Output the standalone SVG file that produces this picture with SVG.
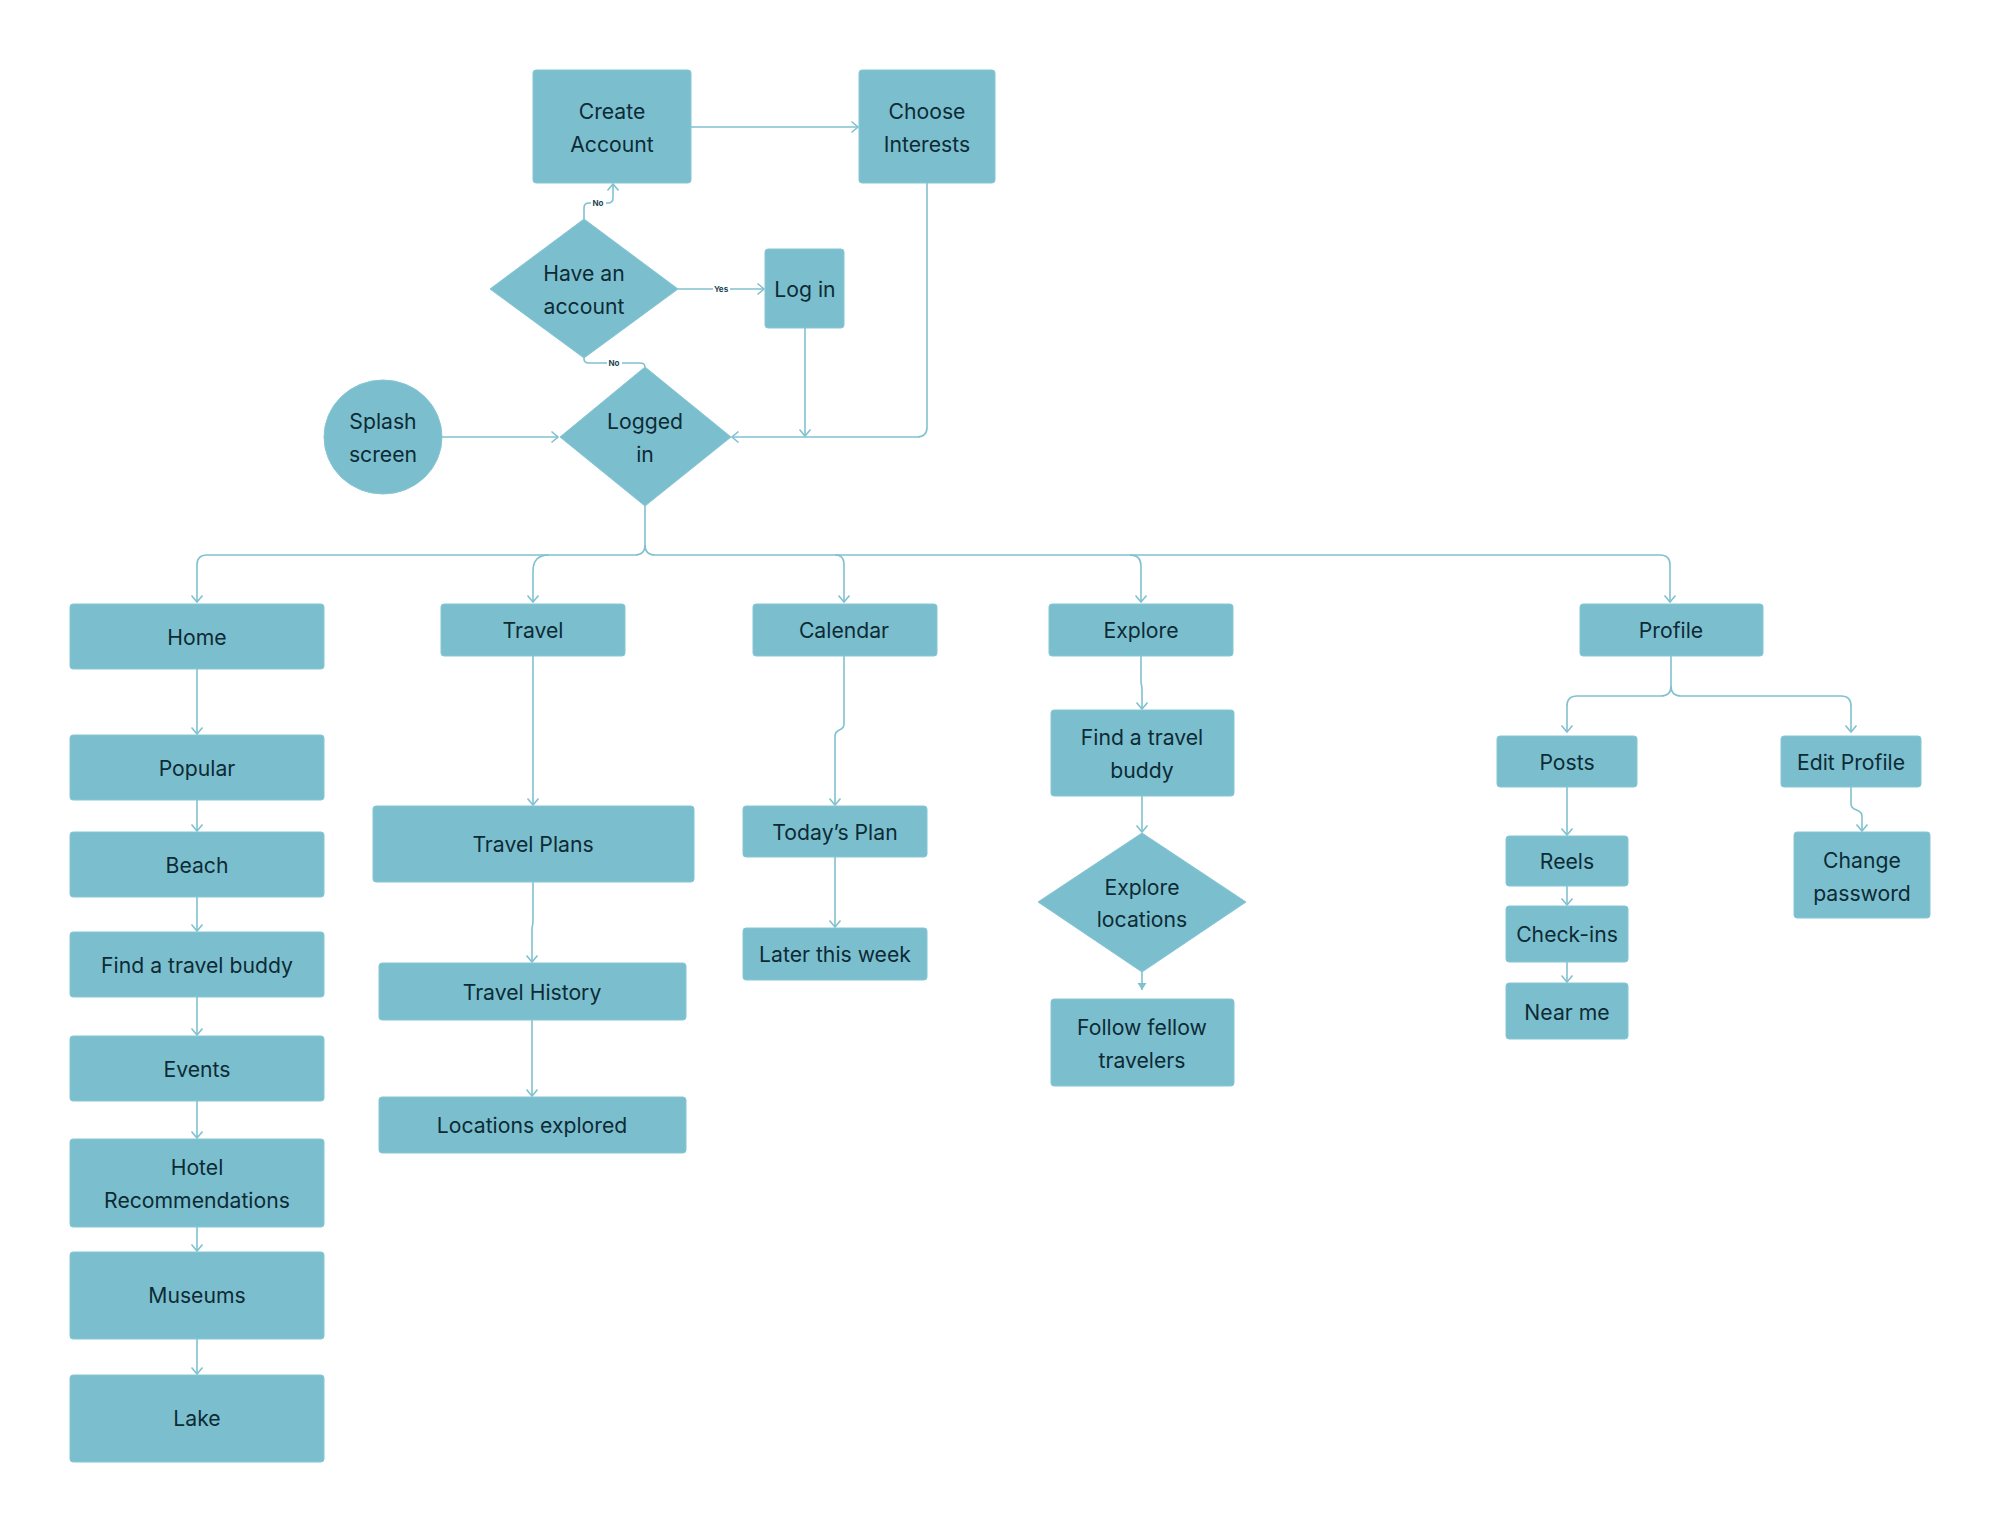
<svg xmlns="http://www.w3.org/2000/svg" width="2000" height="1532" viewBox="0 0 2000 1532">
<style>
.n{fill:#7bbfce;stroke:#86c6d4;stroke-width:1}
.t{font-family:Inter,"Noto Sans","Liberation Sans",sans-serif;font-size:21.2px;fill:#0d2b35;text-anchor:middle}
.c{fill:none;stroke:#80c1cf;stroke-width:1.6}
.a{marker-end:url(#ar)}
.lb{font-family:Inter,"Liberation Sans",sans-serif;font-size:8px;font-weight:700;fill:#1b4756;text-anchor:middle}
</style>
<defs>
<marker id="ar" markerUnits="userSpaceOnUse" markerWidth="14" markerHeight="14" refX="8" refY="7" orient="auto">
<path d="M1.5,1.5 L8,7 L1.5,12.5" fill="none" stroke="#80c1cf" stroke-width="1.6"/>
</marker>
<marker id="af" markerUnits="userSpaceOnUse" markerWidth="12" markerHeight="12" refX="8" refY="6" orient="auto">
<path d="M1,1.5 L8,6 L1,10.5 Z" fill="#80c1cf"/>
</marker>
</defs>
<rect width="2000" height="1532" fill="#ffffff"/>
<g id="connectors">
<path class="c a" d="M691,127 H858"/>
<path class="c a" d="M678,289 H764"/>
<path class="c a" d="M584,219 V208 Q584,203 589,203 H608 Q613,203 613,198 V184"/>
<path class="c" d="M584,358 V359 Q584,363 589,363 H640 Q645,363 645,367"/>
<path class="c a" d="M442,437 H558"/>
<path class="c a" d="M805,328 V436"/>
<path class="c a" d="M927,183 V427 Q927,437 917,437 H732"/>
<path class="c a" d="M645,506 V545 Q645,555 635,555 H207 Q197,555 197,565 V602"/>
<path class="c a" d="M645,545 Q645,555 655,555 H1660 Q1670,555 1670,565 V602"/>
<path class="c a" d="M549,555 Q533,555 533,571 V602"/>
<path class="c a" d="M835,555 Q844,555 844,564 V602"/>
<path class="c a" d="M1130,555 Q1141,555 1141,566 V602"/>
<path class="c a" d="M197,669 V734"/>
<path class="c a" d="M197,800 V831"/>
<path class="c a" d="M197,897 V931"/>
<path class="c a" d="M197,997 V1035"/>
<path class="c a" d="M197,1101 V1138"/>
<path class="c a" d="M197,1227 V1251"/>
<path class="c a" d="M197,1339 V1374"/>
<path class="c a" d="M533,656 V805"/>
<path class="c a" d="M533,882 V920 Q533,924 532,928 V962"/>
<path class="c a" d="M532,1020 V1096"/>
<path class="c a" d="M844,656 V724 C844,732 835,728 835,736 V805"/>
<path class="c a" d="M835,857 V927"/>
<path class="c a" d="M1141,656 V680 C1141,686 1142,684 1142,690 V709"/>
<path class="c a" d="M1142,796 V832"/>
<path class="c" d="M1142,972 V990" marker-end="url(#af)"/>
<path class="c a" d="M1671,656 V686 Q1671,696 1661,696 H1577 Q1567,696 1567,706 V732"/>
<path class="c a" d="M1671,686 Q1671,696 1681,696 H1841 Q1851,696 1851,706 V732"/>
<path class="c a" d="M1567,787 V835"/>
<path class="c a" d="M1567,886 V905"/>
<path class="c a" d="M1567,962 V982"/>
<path class="c a" d="M1851,787 V804 C1851,812 1862,808 1862,816 V831"/>
<rect x="713" y="283" width="17" height="12" fill="#ffffff"/>
<text class="lb" x="721" y="292">Yes</text>
<rect x="591" y="197" width="15" height="12" fill="#ffffff"/>
<text class="lb" x="598" y="206">No</text>
<rect x="607" y="357" width="15" height="12" fill="#ffffff"/>
<text class="lb" x="614" y="366">No</text>
</g>
<g id="create-account"><rect class="n" x="533" y="70" width="158" height="113" rx="3"/><text class="t" x="612" y="119">Create</text><text class="t" x="612" y="152">Account</text></g>
<g id="choose-interests"><rect class="n" x="859" y="70" width="136" height="113" rx="3"/><text class="t" x="927" y="119">Choose</text><text class="t" x="927" y="152">Interests</text></g>
<g id="have-account"><polygon class="n" points="584,219 678,289 584,358 490,289"/><text class="t" x="584" y="281">Have an</text><text class="t" x="584" y="314">account</text></g>
<g id="log-in"><rect class="n" x="765" y="249" width="79" height="79" rx="3"/><text class="t" x="805" y="297">Log in</text></g>
<g id="splash"><ellipse class="n" cx="383" cy="437" rx="59" ry="57"/><text class="t" x="383" y="429">Splash</text><text class="t" x="383" y="462">screen</text></g>
<g id="logged-in"><polygon class="n" points="645,367 731,437 645,506 560,437"/><text class="t" x="645" y="429">Logged</text><text class="t" x="645" y="462">in</text></g>
<g id="home"><rect class="n" x="70" y="604" width="254" height="65" rx="3"/><text class="t" x="197" y="645">Home</text></g>
<g id="popular"><rect class="n" x="70" y="735" width="254" height="65" rx="3"/><text class="t" x="197" y="776">Popular</text></g>
<g id="beach"><rect class="n" x="70" y="832" width="254" height="65" rx="3"/><text class="t" x="197" y="873">Beach</text></g>
<g id="find-buddy-home"><rect class="n" x="70" y="932" width="254" height="65" rx="3"/><text class="t" x="197" y="973">Find a travel buddy</text></g>
<g id="events"><rect class="n" x="70" y="1036" width="254" height="65" rx="3"/><text class="t" x="197" y="1077">Events</text></g>
<g id="hotel"><rect class="n" x="70" y="1139" width="254" height="88" rx="3"/><text class="t" x="197" y="1175">Hotel</text><text class="t" x="197" y="1208">Recommendations</text></g>
<g id="museums"><rect class="n" x="70" y="1252" width="254" height="87" rx="3"/><text class="t" x="197" y="1303">Museums</text></g>
<g id="lake"><rect class="n" x="70" y="1375" width="254" height="87" rx="3"/><text class="t" x="197" y="1426">Lake</text></g>
<g id="travel"><rect class="n" x="441" y="604" width="184" height="52" rx="3"/><text class="t" x="533" y="638">Travel</text></g>
<g id="travel-plans"><rect class="n" x="373" y="806" width="321" height="76" rx="3"/><text class="t" x="533" y="852">Travel Plans</text></g>
<g id="travel-history"><rect class="n" x="379" y="963" width="307" height="57" rx="3"/><text class="t" x="532" y="1000">Travel History</text></g>
<g id="locations-explored"><rect class="n" x="379" y="1097" width="307" height="56" rx="3"/><text class="t" x="532" y="1133">Locations explored</text></g>
<g id="calendar"><rect class="n" x="753" y="604" width="184" height="52" rx="3"/><text class="t" x="844" y="638">Calendar</text></g>
<g id="todays-plan"><rect class="n" x="743" y="806" width="184" height="51" rx="3"/><text class="t" x="835" y="840">Today’s Plan</text></g>
<g id="later-this-week"><rect class="n" x="743" y="928" width="184" height="52" rx="3"/><text class="t" x="835" y="962">Later this week</text></g>
<g id="explore"><rect class="n" x="1049" y="604" width="184" height="52" rx="3"/><text class="t" x="1141" y="638">Explore</text></g>
<g id="find-buddy-explore"><rect class="n" x="1051" y="710" width="183" height="86" rx="3"/><text class="t" x="1142" y="745">Find a travel</text><text class="t" x="1142" y="778">buddy</text></g>
<g id="explore-locations"><polygon class="n" points="1142,833 1246,902 1142,972 1038,902"/><text class="t" x="1142" y="895">Explore</text><text class="t" x="1142" y="927">locations</text></g>
<g id="follow-travelers"><rect class="n" x="1051" y="999" width="183" height="87" rx="3"/><text class="t" x="1142" y="1035">Follow fellow</text><text class="t" x="1142" y="1068">travelers</text></g>
<g id="profile"><rect class="n" x="1580" y="604" width="183" height="52" rx="3"/><text class="t" x="1671" y="638">Profile</text></g>
<g id="posts"><rect class="n" x="1497" y="736" width="140" height="51" rx="3"/><text class="t" x="1567" y="770">Posts</text></g>
<g id="edit-profile"><rect class="n" x="1781" y="736" width="140" height="51" rx="3"/><text class="t" x="1851" y="770">Edit Profile</text></g>
<g id="reels"><rect class="n" x="1506" y="836" width="122" height="50" rx="3"/><text class="t" x="1567" y="869">Reels</text></g>
<g id="check-ins"><rect class="n" x="1506" y="906" width="122" height="56" rx="3"/><text class="t" x="1567" y="942">Check-ins</text></g>
<g id="near-me"><rect class="n" x="1506" y="983" width="122" height="56" rx="3"/><text class="t" x="1567" y="1020">Near me</text></g>
<g id="change-password"><rect class="n" x="1794" y="832" width="136" height="86" rx="3"/><text class="t" x="1862" y="868">Change</text><text class="t" x="1862" y="901">password</text></g>
</svg>
